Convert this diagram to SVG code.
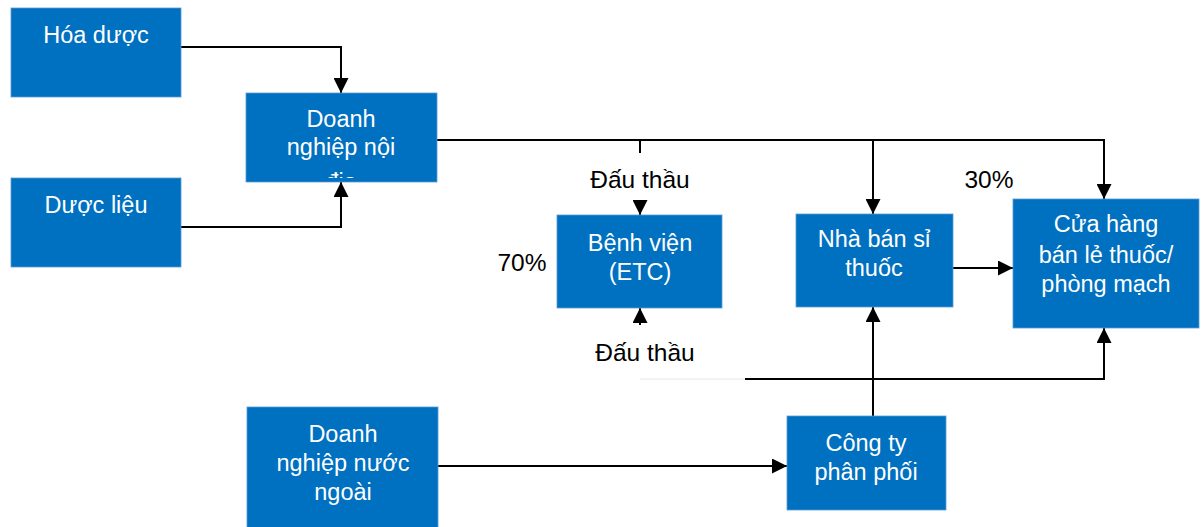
<svg xmlns="http://www.w3.org/2000/svg" width="1203" height="527" viewBox="0 0 1203 527">
<style>
.box{fill:#0070C0;stroke:#5B9BD5;stroke-width:0.8}
.t{font-family:"Liberation Sans",Arial,sans-serif;font-size:23.5px;fill:#fff;text-anchor:middle}
.l{font-family:"Liberation Sans",Arial,sans-serif;font-size:24.5px;fill:#000;text-anchor:middle}
.c{fill:none;stroke:#000;stroke-width:2}
</style>
<defs>
<marker id="ah" viewBox="0 0 10 10" refX="10" refY="5" markerWidth="7.5" markerHeight="7.5" orient="auto" markerUnits="strokeWidth">
<path d="M0,0 L10,5 L0,10 z" fill="#000"/>
</marker>
<clipPath id="clipDN"><rect x="246" y="93" width="191" height="85"/></clipPath>
</defs>
<rect width="1203" height="527" fill="#fff"/>
<g id="connectors">
<path class="c" d="M181,47 H341 V93" marker-end="url(#ah)"/>
<path class="c" d="M181,227 H341 V182" marker-end="url(#ah)"/>
<path class="c" d="M437,140 H1104 V199" marker-end="url(#ah)"/>
<path class="c" d="M873,140 V214" marker-end="url(#ah)"/>
<path class="c" d="M640,140 V153"/>
<path class="c" d="M640,200 V215" marker-end="url(#ah)"/>
<path class="c" d="M640,325 V308" marker-end="url(#ah)"/>
<path d="M640,379 H745" stroke="#e6e6e6" stroke-width="1" fill="none"/>
<path class="c" d="M745,379 H1104 V328" marker-end="url(#ah)"/>
<path class="c" d="M953,268 H1013" marker-end="url(#ah)"/>
<path class="c" d="M873,416 V307" marker-end="url(#ah)"/>
<path class="c" d="M438,466 H787" marker-end="url(#ah)"/>
</g>
<g id="hoa-duoc">
<rect class="box" x="11" y="8" width="170" height="89"/>
<text class="t" x="96" y="43">Hóa dược</text>
</g>
<g id="duoc-lieu">
<rect class="box" x="11" y="178" width="170" height="89"/>
<text class="t" x="96" y="213">Dược liệu</text>
</g>
<g id="dn-noi-dia">
<rect class="box" x="246" y="93" width="191" height="89"/>
<g clip-path="url(#clipDN)">
<text class="t" x="341" y="127">Doanh</text>
<text class="t" x="341" y="155">nghiệp nội</text>
<text class="t" x="341" y="190">địa</text>
</g>
</g>
<g id="benh-vien">
<rect class="box" x="557" y="215" width="165" height="93"/>
<text class="t" x="640" y="251">Bệnh viện</text>
<text class="t" x="640" y="280">(ETC)</text>
</g>
<g id="nha-ban-si">
<rect class="box" x="796" y="214" width="157" height="93"/>
<text class="t" x="874" y="247">Nhà bán sỉ</text>
<text class="t" x="874" y="276">thuốc</text>
</g>
<g id="cua-hang">
<rect class="box" x="1013" y="199" width="186" height="129"/>
<text class="t" x="1106" y="232">Cửa hàng</text>
<text class="t" x="1106" y="263">bán lẻ thuốc/</text>
<text class="t" x="1106" y="292">phòng mạch</text>
</g>
<g id="cong-ty-phan-phoi">
<rect class="box" x="787" y="416" width="159" height="94"/>
<text class="t" x="866" y="451">Công ty</text>
<text class="t" x="866" y="480">phân phối</text>
</g>
<g id="dn-nuoc-ngoai">
<rect class="box" x="247" y="407" width="191" height="125"/>
<text class="t" x="343" y="442">Doanh</text>
<text class="t" x="343" y="471">nghiệp nước</text>
<text class="t" x="343" y="500">ngoài</text>
</g>
<g id="labels">
<text class="l" x="640" y="188">Đấu thầu</text>
<text class="l" x="645" y="361">Đấu thầu</text>
<text class="l" x="522" y="271">70%</text>
<text class="l" x="989" y="188">30%</text>
</g>
</svg>
